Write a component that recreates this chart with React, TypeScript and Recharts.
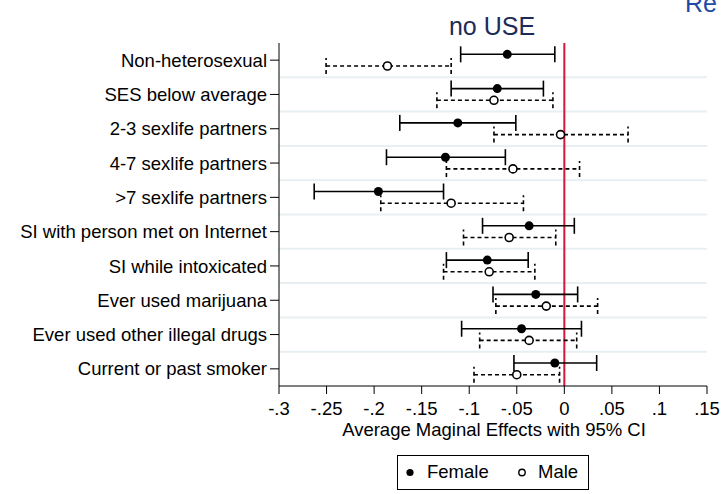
import React from "react";
import {
  ScatterChart,
  Scatter,
  XAxis,
  YAxis,
  ErrorBar,
  ReferenceLine,
} from "recharts";

const categories = [
  "Non-heterosexual",
  "SES below average",
  "2-3 sexlife partners",
  "4-7 sexlife partners",
  ">7 sexlife partners",
  "SI with person met on Internet",
  "SI while intoxicated",
  "Ever used marijuana",
  "Ever used other illegal drugs",
  "Current or past smoker",
];

const femaleMean = [-0.06, -0.0705, -0.112, -0.125, -0.1955, -0.037, -0.081, -0.03, -0.045, -0.01];
const femaleLow = [-0.109, -0.119, -0.173, -0.187, -0.263, -0.086, -0.124, -0.075, -0.108, -0.053];
const femaleHigh = [-0.01, -0.022, -0.051, -0.062, -0.127, 0.0105, -0.038, 0.014, 0.018, 0.034];

const maleMean = [-0.186, -0.074, -0.004, -0.054, -0.119, -0.058, -0.079, -0.019, -0.037, -0.05];
const maleLow = [-0.2505, -0.134, -0.074, -0.124, -0.193, -0.106, -0.127, -0.072, -0.089, -0.095];
const maleHigh = [-0.119, -0.012, 0.067, 0.016, -0.043, -0.009, -0.031, 0.035, 0.013, -0.005];

const xTicks = [-0.3, -0.25, -0.2, -0.15, -0.1, -0.05, 0, 0.05, 0.1, 0.15];
const xTickLabels = ["-.3", "-.25", "-.2", "-.15", "-.1", "-.05", "0", ".05", ".1", ".15"];

const FONT = "'Liberation Sans', Arial, sans-serif";
const ROW_SHIFT = 0.17;

const femaleData = categories.map((c, i) => ({
  name: c,
  x: femaleMean[i],
  y: i - ROW_SHIFT,
  err: [femaleMean[i] - femaleLow[i], femaleHigh[i] - femaleMean[i]],
}));

const maleData = categories.map((c, i) => ({
  name: c,
  x: maleMean[i],
  y: i + ROW_SHIFT,
  err: [maleMean[i] - maleLow[i], maleHigh[i] - maleMean[i]],
}));

const FilledDot = (props: any) => (
  <circle cx={props.cx} cy={props.cy} r={4.5} fill="#000" />
);

const HollowDot = (props: any) => (
  <circle cx={props.cx} cy={props.cy} r={4} fill="#fff" stroke="#000" strokeWidth={1.6} />
);

export default function App() {
  return (
    <div
      style={{
        position: "absolute",
        left: 0,
        top: 0,
        width: 723,
        height: 494,
        overflow: "hidden",
        background: "#fff",
        fontFamily: FONT,
      }}
    >
      <ScatterChart
        width={723}
        height={494}
        margin={{ top: 43, right: 16, bottom: 58, left: 0 }}
      >
        <XAxis
          type="number"
          dataKey="x"
          domain={[-0.3, 0.15]}
          ticks={xTicks}
          allowDataOverflow
          tickFormatter={(v: number) => xTickLabels[xTicks.findIndex((t) => Math.abs(t - v) < 1e-9)] ?? String(v)}
          tick={{ fontSize: 18.5, fill: "#000", fontFamily: FONT }}
          tickSize={8}
          tickMargin={8}
          height={50}
          stroke="#000"
          interval={0}
        />
        <YAxis
          type="number"
          dataKey="y"
          domain={[-0.5, 9.5]}
          reversed
          ticks={categories.map((_, i) => i)}
          tickFormatter={(v: number) => categories[v] ?? ""}
          tick={{ fontSize: 18.5, fill: "#000", fontFamily: FONT }}
          tickSize={9}
          tickMargin={3}
          width={279}
          stroke="#000"
          interval={0}
          allowDataOverflow
        />
        {categories.slice(1).map((_, i) => (
          <ReferenceLine key={"g" + i} y={i + 0.5} stroke="#e7eff2" strokeWidth={2} />
        ))}
        <ReferenceLine x={0} stroke="#d3173d" strokeWidth={2} />
        <Scatter data={femaleData} shape={FilledDot} isAnimationActive={false}>
          <ErrorBar dataKey="err" direction="x" width={8} stroke="#000" strokeWidth={1.6} />
        </Scatter>
        <Scatter data={maleData} shape={HollowDot} isAnimationActive={false}>
          <ErrorBar
            dataKey="err"
            direction="x"
            width={8}
            stroke="#000"
            strokeWidth={1.6}
            strokeDasharray="4 3"
          />
        </Scatter>
      </ScatterChart>

      <div
        style={{
          position: "absolute",
          left: 685,
          top: -9,
          fontSize: 25,
          lineHeight: "25px",
          color: "#1f4aa6",
          whiteSpace: "nowrap",
        }}
      >
        Re
      </div>
      <div
        style={{
          position: "absolute",
          left: 292,
          width: 400,
          top: 14,
          textAlign: "center",
          fontSize: 25,
          lineHeight: "25px",
          color: "#1d2b57",
        }}
      >
        no USE
      </div>
      <div
        style={{
          position: "absolute",
          left: 294,
          width: 400,
          top: 421,
          textAlign: "center",
          fontSize: 18.5,
          lineHeight: "18.5px",
          color: "#000",
        }}
      >
        Average Maginal Effects with 95% CI
      </div>
      <div
        style={{
          position: "absolute",
          left: 397,
          top: 455,
          width: 190,
          height: 33,
          border: "1px solid #000",
          fontSize: 18.5,
          lineHeight: "18.5px",
          color: "#000",
        }}
      >
        <svg style={{ position: "absolute", left: 0, top: 0 }} width={190} height={33}>
          <circle cx={12} cy={16.5} r={3.6} fill="#000" />
          <circle cx={124} cy={16.5} r={3.2} fill="#fff" stroke="#000" strokeWidth={1.4} />
        </svg>
        <span style={{ position: "absolute", left: 29, top: 7 }}>Female</span>
        <span style={{ position: "absolute", left: 140, top: 7 }}>Male</span>
      </div>
    </div>
  );
}
